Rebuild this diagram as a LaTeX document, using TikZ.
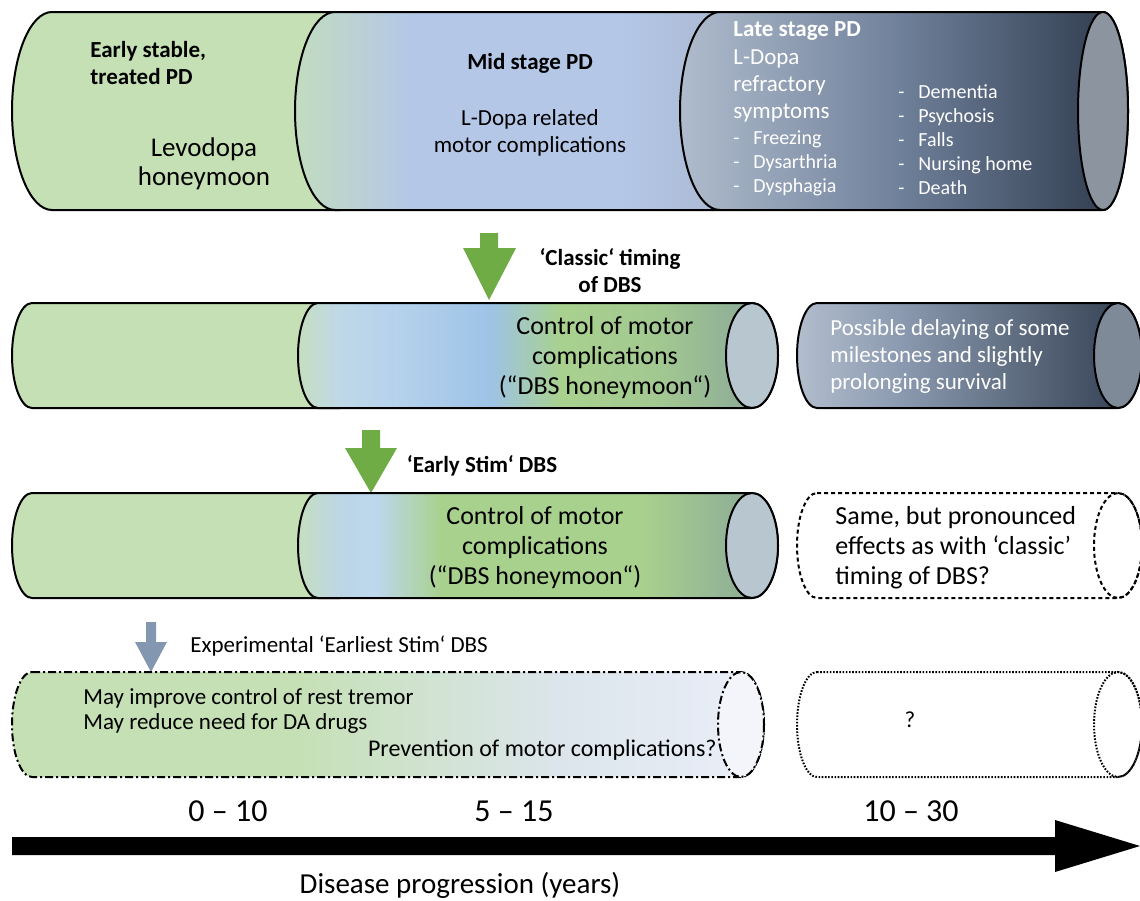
\documentclass[tikz,border=0pt]{standalone}
\usepackage{fontspec}
\setmainfont{Carlito}
\usepackage{tikz}
\usetikzlibrary{arrows}

\definecolor{pdgreen}{HTML}{C5E0B4}
\definecolor{pdblue}{HTML}{B4C7E7}
\definecolor{arrowgreen}{HTML}{6FAC46}
\definecolor{arrowslate}{HTML}{8497B0}
% row 1
\definecolor{midleft}{HTML}{C2DCC0}
\definecolor{midright}{HTML}{A9B7CE}
\definecolor{lateleft}{HTML}{B0BCCD}
\definecolor{latemid}{HTML}{6F809A}
\definecolor{lateright}{HTML}{2C384A}
\definecolor{lateface}{HTML}{8C959F}
% rows 2 and 3
\definecolor{dbsgreen}{HTML}{A9D18E}
\definecolor{dbsgreenb}{HTML}{A2C891}
\definecolor{dbsedge}{HTML}{86A29A}
\definecolor{dbsmint}{HTML}{C5DEC0}
\definecolor{dbssky}{HTML}{BFD8E8}
\definecolor{dbsskyb}{HTML}{B5D1EC}
\definecolor{dbsskyc}{HTML}{9DC3E6}
\definecolor{dbsskyd}{HTML}{BCD6E6}
\definecolor{dbsskye}{HTML}{BDD7EE}
\definecolor{dbsface}{HTML}{B8C7CF}
\definecolor{slateleft}{HTML}{B2BDCD}
\definecolor{slatemid}{HTML}{8B9AB0}
\definecolor{slateright}{HTML}{303C4E}
\definecolor{slateface}{HTML}{7F8A99}
% row 4
\definecolor{fadegrey}{HTML}{DCE5EC}
\definecolor{fadeblue}{HTML}{EBEFF9}
\definecolor{fadeface}{HTML}{F3F5FB}

% cylinder outline: left x, cap x, top y, bottom y, left radius, cap radius
\newcommand{\cylpath}[6]{({#1+#5},#3) -- (#2,#3)
  arc[start angle=-90, end angle=90, x radius=#6, y radius={(#4-#3)/2}]
  -- ({#1+#5},#4)
  arc[start angle=90, end angle=270, x radius=#5, y radius={(#4-#3)/2}] -- cycle}
% one shaded band inside a clipped cylinder
\newcommand{\band}[4]{\shade[left color=#3, right color=#4] (#1,0) rectangle ({#2+1},900);}

\begin{document}
\begin{tikzpicture}[x=0.5pt, y=-0.5pt]
  \tikzset{
    lbl/.style = {inner sep=0pt, align=center, font=\fontsize{11.5}{13.5}\selectfont},
    hdr/.style = {lbl, font=\bfseries\fontsize{11.5}{13.5}\selectfont},
    bigtxt/.style = {lbl, font=\fontsize{13}{15}\selectfont},
    wtxt/.style = {lbl, text=white, align=left, anchor=west},
    rim/.style = {draw=black, line width=1pt},
    endface/.style = {rim, fill=#1}
  }
  \useasboundingbox (0,0) rectangle (1140,900);

  % row 1: disease stages
  \fill[pdgreen] \cylpath{12}{340}{12}{210}{40}{25};
  \draw[rim] \cylpath{12}{340}{12}{210}{40}{25};
  \begin{scope}
    \clip \cylpath{295}{720}{12}{210}{40}{25};
    \band{295}{410}{midleft}{pdblue}
    \band{410}{620}{pdblue}{pdblue}
    \band{620}{745}{pdblue}{midright}
  \end{scope}
  \draw[rim] \cylpath{295}{720}{12}{210}{40}{25};
  \begin{scope}
    \clip \cylpath{680}{1103}{12}{210}{40}{25};
    \band{680}{900}{lateleft}{latemid}
    \band{900}{1130}{latemid}{lateright}
  \end{scope}
  \draw[rim] \cylpath{680}{1103}{12}{210}{40}{25};
  \draw[endface=lateface] (1103,111) ellipse [x radius=25, y radius=99];

  \node[hdr, align=left, anchor=west] (early) at (90,63) {Early stable,\\treated PD};
  \node[lbl, font=\fontsize{13.5}{14.5}\selectfont] (levo) at (204,164) {Levodopa\\honeymoon};
  \node[hdr] (mid) at (530,63) {Mid stage PD};
  \node[lbl] (midtxt) at (530,133) {L-Dopa related\\motor complications};
  \node[hdr, text=white, anchor=west] (late) at (733,31) {Late stage PD};
  \node[wtxt] (refr) at (733,86) {L-Dopa\\refractory\\symptoms};
  \node[wtxt, font=\fontsize{10}{12}\selectfont] (sym1) at (733,163)
    {\makebox[10pt][l]{-}Freezing\\\makebox[10pt][l]{-}Dysarthria\\\makebox[10pt][l]{-}Dysphagia};
  \node[wtxt, font=\fontsize{10}{12}\selectfont] (sym2) at (898,140)
    {\makebox[10pt][l]{-}Dementia\\\makebox[10pt][l]{-}Psychosis\\\makebox[10pt][l]{-}Falls\\\makebox[10pt][l]{-}Nursing home\\\makebox[10pt][l]{-}Death};

  % row 2: classic DBS
  \fill[arrowgreen] (480,233) -- (498,233) -- (498,248) -- (516,248) -- (489,300)
    -- (463,248) -- (480,248) -- cycle;
  \node[hdr] (classic) at (610,271) {‘Classic‘ timing\\of DBS};

  \fill[pdgreen] \cylpath{12}{340}{303}{408}{20}{22};
  \draw[rim] \cylpath{12}{340}{303}{408}{20}{22};
  \begin{scope}
    \clip \cylpath{298}{752}{303}{408}{20}{26};
    \band{298}{340}{dbsmint}{dbssky}
    \band{340}{400}{dbssky}{dbsskyb}
    \band{400}{490}{dbsskyb}{dbsskyc}
    \band{490}{560}{dbsskyc}{dbsgreen}
    \band{560}{660}{dbsgreen}{dbsgreenb}
    \band{660}{780}{dbsgreenb}{dbsedge}
  \end{scope}
  \draw[rim] \cylpath{298}{752}{303}{408}{20}{26};
  \draw[endface=dbsface] (752,355.5) ellipse [x radius=26, y radius=52.5];
  \node[bigtxt] (ctrl1) at (605,358) {Control of motor\\complications\\(“DBS honeymoon“)};

  \begin{scope}
    \clip \cylpath{797}{1118}{303}{408}{20}{24};
    \band{797}{900}{slateleft}{slatemid}
    \band{900}{1142}{slatemid}{slateright}
  \end{scope}
  \draw[rim] \cylpath{797}{1118}{303}{408}{20}{24};
  \draw[endface=slateface] (1118,355.5) ellipse [x radius=24, y radius=52.5];
  \node[wtxt] (delay) at (830,356) {Possible delaying of some\\milestones and slightly\\prolonging survival};

  % row 3: early stim DBS
  \fill[arrowgreen] (362,430) -- (380,430) -- (380,448) -- (397,448) -- (371,493)
    -- (345,448) -- (362,448) -- cycle;
  \node[hdr] (earlystim) at (482,466) {‘Early Stim‘ DBS};

  \fill[pdgreen] \cylpath{12}{340}{493}{598}{20}{22};
  \draw[rim] \cylpath{12}{340}{493}{598}{20}{22};
  \begin{scope}
    \clip \cylpath{298}{752}{493}{598}{20}{26};
    \band{298}{340}{dbsmint}{dbsskyd}
    \band{340}{375}{dbsskyd}{dbsskye}
    \band{375}{440}{dbsskye}{dbsgreen}
    \band{440}{640}{dbsgreen}{dbsgreen}
    \band{640}{780}{dbsgreen}{dbsedge}
  \end{scope}
  \draw[rim] \cylpath{298}{752}{493}{598}{20}{26};
  \draw[endface=dbsface] (752,545.5) ellipse [x radius=26, y radius=52.5];
  \node[bigtxt] (ctrl2) at (535,548) {Control of motor\\complications\\(“DBS honeymoon“)};

  \draw[rim, dash pattern=on 2pt off 1.5pt, fill=white] \cylpath{797}{1118}{493}{598}{20}{24};
  \draw[rim, dash pattern=on 2pt off 1.5pt] (1118,545.5) ellipse [x radius=24, y radius=52.5];
  \node[bigtxt, align=left, anchor=west] (same) at (835,548) {Same, but pronounced\\effects as with ‘classic’\\timing of DBS?};

  % row 4: earliest stim DBS
  \fill[arrowslate] (146,622) -- (156,622) -- (156,642) -- (167,642) -- (151,672)
    -- (135,642) -- (146,642) -- cycle;
  \node[lbl, anchor=west] (earliest) at (190,646) {Experimental ‘Earliest Stim‘ DBS};

  \begin{scope}
    \clip \cylpath{12}{741}{672}{777}{20}{23};
    \band{12}{290}{pdgreen}{pdgreen}
    \band{290}{560}{pdgreen}{fadegrey}
    \band{560}{770}{fadegrey}{fadeblue}
  \end{scope}
  \draw[rim, dash pattern=on 4pt off 1.5pt on 1pt off 1.5pt] \cylpath{12}{741}{672}{777}{20}{23};
  \draw[endface=fadeface, dash pattern=on 4pt off 1.5pt on 1pt off 1.5pt] (741,724.5) ellipse [x radius=23, y radius=52.5];
  \node[lbl, anchor=west] (tremor) at (83,698) {May improve control of rest tremor};
  \node[lbl, anchor=west] (drugs) at (83,723) {May reduce need for DA drugs};
  \node[lbl, font=\fontsize{12}{14}\selectfont, anchor=east] (prevent) at (717,750) {Prevention of motor complications?};

  \draw[rim, dash pattern=on 0.8pt off 0.8pt, fill=white] \cylpath{797}{1118}{672}{777}{20}{24};
  \draw[rim, dash pattern=on 0.8pt off 0.8pt] (1118,724.5) ellipse [x radius=24, y radius=52.5];
  \node[lbl] (unknown) at (910,720) {?};

  % time axis
  \node[lbl, font=\fontsize{16}{18}\selectfont] (t1) at (228,811) {0 – 10};
  \node[lbl, font=\fontsize{16}{18}\selectfont] (t2) at (514,811) {5 – 15};
  \node[lbl, font=\fontsize{16}{18}\selectfont] (t3) at (911,811) {10 – 30};
  \fill[black] (12,837) -- (1055,837) -- (1055,820) -- (1140,846) -- (1055,872)
    -- (1055,855) -- (12,855) -- cycle;
  \node[lbl, font=\fontsize{14.5}{16}\selectfont] (axis) at (460,885) {Disease progression (years)};
\end{tikzpicture}
\end{document}
